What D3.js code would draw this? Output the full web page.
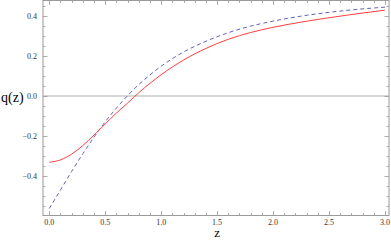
<!DOCTYPE html>
<html>
<head>
<meta charset="utf-8">
<script src="https://cdnjs.cloudflare.com/ajax/libs/d3/7.8.5/d3.min.js"></script>
<style>
  body { margin: 0; background: #fff; }
</style>
</head>
<body>
<script>
// redshift samples
var zs = [0, 0.1, 0.2, 0.3, 0.4, 0.5, 0.6, 0.7, 0.8, 0.9, 1.0, 1.2, 1.4, 1.6, 1.8, 2.0, 2.25, 2.5, 2.75, 3.0];
// solid red curve
var qModel = [-0.333, -0.321, -0.292, -0.249, -0.197, -0.141, -0.086, -0.036, 0.016, 0.063, 0.106,
              0.180, 0.238, 0.284, 0.318, 0.344, 0.370, 0.392, 0.412, 0.430];
// dashed blue curve
var qRef = [-0.565, -0.472, -0.379, -0.290, -0.207, -0.130, -0.061, 0.001, 0.057, 0.105, 0.149,
            0.220, 0.274, 0.317, 0.350, 0.375, 0.400, 0.419, 0.434, 0.445];
var xTicks = [0, 0.5, 1.0, 1.5, 2.0, 2.5, 3.0];
var yTicks = [-0.4, -0.2, 0.0, 0.2, 0.4];

var W = 391, H = 240;
var frame = { left: 43, right: 389, top: 0.5, bottom: 215.5 };
var serif = "'Liberation Serif', 'Times New Roman', serif";

var svg = d3.select("body").append("svg")
    .attr("width", W)
    .attr("height", H)
    .attr("font-family", serif);

var x = d3.scaleLinear().domain([-0.056, 3.036]).range([frame.left, frame.right]);
var y = d3.scaleLinear().domain([-0.6, 0.4785]).range([frame.bottom, frame.top]);

var frameCol = "#9a9a9a";

// zero line
svg.append("line")
    .attr("x1", frame.left).attr("x2", frame.right)
    .attr("y1", y(0)).attr("y2", y(0))
    .attr("stroke", "#c8c8c8")
    .attr("stroke-width", 1.5);

// ticks (inward, on all sides)
var xMinor = d3.range(0, 3.001, 0.1);
var yMinor = d3.range(-0.55, 0.4501, 0.05);
function isMajor(v, list) {
  return list.some(function (t) { return Math.abs(t - v) < 1e-6; });
}
var tg = svg.append("g").attr("stroke", frameCol).attr("stroke-width", 0.8);
xMinor.forEach(function (v) {
  var len = isMajor(v, xTicks) ? 4.5 : 2.5;
  var px = Math.round(x(v)) + 0.5;
  tg.append("line").attr("x1", px).attr("x2", px).attr("y1", frame.bottom).attr("y2", frame.bottom - len);
  tg.append("line").attr("x1", px).attr("x2", px).attr("y1", frame.top).attr("y2", frame.top + len);
});
yMinor.forEach(function (v) {
  var len = isMajor(v, yTicks) ? 4.5 : 2.5;
  var py = Math.round(y(v)) + 0.5;
  tg.append("line").attr("x1", frame.left).attr("x2", frame.left + len).attr("y1", py).attr("y2", py);
  tg.append("line").attr("x1", frame.right).attr("x2", frame.right - len).attr("y1", py).attr("y2", py);
});

// frame
svg.append("rect")
    .attr("x", frame.left).attr("y", frame.top)
    .attr("width", frame.right - frame.left).attr("height", frame.bottom - frame.top)
    .attr("fill", "none")
    .attr("stroke", frameCol)
    .attr("stroke-width", 1);

// tick labels
svg.append("g").selectAll("text")
    .data(xTicks).enter().append("text")
    .attr("x", function (d) { return x(d); })
    .attr("y", 224.5)
    .attr("text-anchor", "middle")
    .attr("font-size", 8)
    .attr("fill", "#333")
    .text(function (d) { return d.toFixed(1); });

svg.append("g").selectAll("text")
    .data(yTicks).enter().append("text")
    .attr("x", frame.left - 6)
    .attr("y", function (d) { return y(d) + 3; })
    .attr("text-anchor", "end")
    .attr("font-size", 8)
    .attr("fill", "#333")
    .text(function (d) { return d < 0 ? "\u2212" + (-d).toFixed(1) : d.toFixed(1); });

// axis labels
svg.append("text")
    .attr("x", 1).attr("y", y(0) + 6)
    .attr("font-size", 14)
    .attr("fill", "#000")
    .text("q(z)");
svg.append("text")
    .attr("x", x(1.5)).attr("y", 237)
    .attr("text-anchor", "middle")
    .attr("font-size", 13)
    .attr("fill", "#000")
    .text("z");

// curves
var curveLine = d3.line()
    .curve(d3.curveMonotoneX)
    .x(function (d, i) { return x(zs[i]); })
    .y(function (d) { return y(d); });

svg.append("path")
    .datum(qRef)
    .attr("fill", "none")
    .attr("stroke", "#6262b8")
    .attr("stroke-width", 1)
    .attr("stroke-dasharray", "4,3")
    .attr("d", curveLine);

svg.append("path")
    .datum(qModel)
    .attr("fill", "none")
    .attr("stroke", "#ff3f3f")
    .attr("stroke-width", 1)
    .attr("d", curveLine);
</script>
</body>
</html>
